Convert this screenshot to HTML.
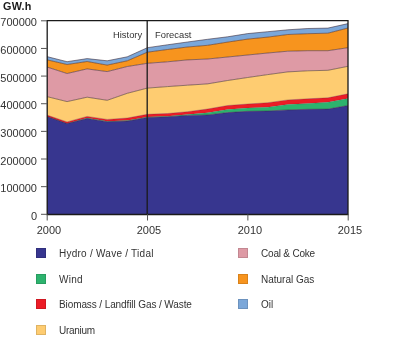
<!DOCTYPE html>
<html><head><meta charset="utf-8"><style>
html,body{margin:0;padding:0;background:#fff;width:400px;height:342px;overflow:hidden}
body{position:relative;font-family:"Liberation Sans",sans-serif;color:#333}
.t{position:absolute;white-space:nowrap;line-height:1;will-change:transform}
.yl{font-size:11px;text-align:right;width:40px;left:-2.6px}
.xl{font-size:11px}
.lg{font-size:10px}
.sw{position:absolute;width:10px;height:10px;box-shadow:inset 0 0 0 1px rgba(0,0,0,.12)}
</style></head><body>
<svg width="400" height="342" viewBox="0 0 400 342" style="position:absolute;left:0;top:0">
<path d="M47,56.6 L67.07,61.7 L87.13,58.6 L107.2,60.8 L127.27,56.8 L147.33,47.7 L167.4,44.8 L187.47,42 L207.53,39.3 L227.6,36.8 L247.67,33.6 L267.73,31.7 L287.8,29.8 L307.87,28.5 L327.93,28.1 L348,23.6 L348,28 L327.93,33.2 L307.87,33.7 L287.8,34.5 L267.73,37.1 L247.67,39.1 L227.6,42.1 L207.53,45.3 L187.47,47 L167.4,49.5 L147.33,52.2 L127.27,60.8 L107.2,65.1 L87.13,61.5 L67.07,64.5 L47,59.8Z" fill="#7ba7d9"/>
<path d="M47,59.8 L67.07,64.5 L87.13,61.5 L107.2,65.1 L127.27,60.8 L147.33,52.2 L167.4,49.5 L187.47,47 L207.53,45.3 L227.6,42.1 L247.67,39.1 L267.73,37.1 L287.8,34.5 L307.87,33.7 L327.93,33.2 L348,28 L348,47.7 L327.93,50.7 L307.87,50.7 L287.8,51.2 L267.73,53 L247.67,55 L227.6,57 L207.53,59 L187.47,59.9 L167.4,61.8 L147.33,63.3 L127.27,66.5 L107.2,71.6 L87.13,68.9 L67.07,73.5 L47,67Z" fill="#f7941e"/>
<path d="M47,67 L67.07,73.5 L87.13,68.9 L107.2,71.6 L127.27,66.5 L147.33,63.3 L167.4,61.8 L187.47,59.9 L207.53,59 L227.6,57 L247.67,55 L267.73,53 L287.8,51.2 L307.87,50.7 L327.93,50.7 L348,47.7 L348,66.3 L327.93,70.3 L307.87,70.8 L287.8,71.9 L267.73,74.6 L247.67,77.5 L227.6,80.5 L207.53,83.9 L187.47,85.2 L167.4,86.6 L147.33,88.1 L127.27,93.3 L107.2,100.3 L87.13,97.2 L67.07,101.6 L47,96.6Z" fill="#de9aa5"/>
<path d="M47,96.6 L67.07,101.6 L87.13,97.2 L107.2,100.3 L127.27,93.3 L147.33,88.1 L167.4,86.6 L187.47,85.2 L207.53,83.9 L227.6,80.5 L247.67,77.5 L267.73,74.6 L287.8,71.9 L307.87,70.8 L327.93,70.3 L348,66.3 L348,93.8 L327.93,97.8 L307.87,98.8 L287.8,99.9 L267.73,102.7 L247.67,104 L227.6,105.5 L207.53,109 L187.47,111.7 L167.4,113.5 L147.33,114.3 L127.27,118 L107.2,119.4 L87.13,116.4 L67.07,121.9 L47,115.1Z" fill="#fecc71"/>
<path d="M47,115.1 L67.07,121.9 L87.13,116.4 L107.2,119.4 L127.27,118 L147.33,114.3 L167.4,113.5 L187.47,111.7 L207.53,109 L227.6,105.5 L247.67,104 L267.73,102.7 L287.8,99.9 L307.87,98.8 L327.93,97.8 L348,93.8 L348,98.4 L327.93,102.2 L307.87,103.6 L287.8,104.4 L267.73,107.2 L247.67,107.9 L227.6,109.6 L207.53,112.8 L187.47,114.6 L167.4,116.2 L147.33,116.9 L127.27,120.5 L107.2,121.2 L87.13,118 L67.07,123.5 L47,116.4Z" fill="#ec1c26"/>
<path d="M47,116.4 L67.07,123.5 L87.13,118 L107.2,121.2 L127.27,120.5 L147.33,116.9 L167.4,116.2 L187.47,114.6 L207.53,112.8 L227.6,109.6 L247.67,107.9 L267.73,107.2 L287.8,104.4 L307.87,103.6 L327.93,102.2 L348,98.4 L348,105.5 L327.93,109.1 L307.87,109.3 L287.8,109.9 L267.73,111 L247.67,111.3 L227.6,112.6 L207.53,114.9 L187.47,115.4 L167.4,116.8 L147.33,117.5 L127.27,121.1 L107.2,121.7 L87.13,118.5 L67.07,123.6 L47,116.5Z" fill="#2db36e"/>
<path d="M47,116.5 L67.07,123.6 L87.13,118.5 L107.2,121.7 L127.27,121.1 L147.33,117.5 L167.4,116.8 L187.47,115.4 L207.53,114.9 L227.6,112.6 L247.67,111.3 L267.73,111 L287.8,109.9 L307.87,109.3 L327.93,109.1 L348,105.5 L348,214.3 L327.93,214.3 L307.87,214.3 L287.8,214.3 L267.73,214.3 L247.67,214.3 L227.6,214.3 L207.53,214.3 L187.47,214.3 L167.4,214.3 L147.33,214.3 L127.27,214.3 L107.2,214.3 L87.13,214.3 L67.07,214.3 L47,214.3Z" fill="#37368f"/>
<path d="M47,56.6 L67.07,61.7 L87.13,58.6 L107.2,60.8 L127.27,56.8 L147.33,47.7 L167.4,44.8 L187.47,42 L207.53,39.3 L227.6,36.8 L247.67,33.6 L267.73,31.7 L287.8,29.8 L307.87,28.5 L327.93,28.1 L348,23.6" fill="none" stroke="#3a2430" stroke-width="0.65" stroke-opacity="0.85"/>
<path d="M47,59.8 L67.07,64.5 L87.13,61.5 L107.2,65.1 L127.27,60.8 L147.33,52.2 L167.4,49.5 L187.47,47 L207.53,45.3 L227.6,42.1 L247.67,39.1 L267.73,37.1 L287.8,34.5 L307.87,33.7 L327.93,33.2 L348,28" fill="none" stroke="#3a2430" stroke-width="0.65" stroke-opacity="0.85"/>
<path d="M47,67 L67.07,73.5 L87.13,68.9 L107.2,71.6 L127.27,66.5 L147.33,63.3 L167.4,61.8 L187.47,59.9 L207.53,59 L227.6,57 L247.67,55 L267.73,53 L287.8,51.2 L307.87,50.7 L327.93,50.7 L348,47.7" fill="none" stroke="#3a2430" stroke-width="0.65" stroke-opacity="0.85"/>
<path d="M47,96.6 L67.07,101.6 L87.13,97.2 L107.2,100.3 L127.27,93.3 L147.33,88.1 L167.4,86.6 L187.47,85.2 L207.53,83.9 L227.6,80.5 L247.67,77.5 L267.73,74.6 L287.8,71.9 L307.87,70.8 L327.93,70.3 L348,66.3" fill="none" stroke="#3a2430" stroke-width="0.65" stroke-opacity="0.85"/>
<path d="M47,115.1 L67.07,121.9 L87.13,116.4 L107.2,119.4 L127.27,118 L147.33,114.3 L167.4,113.5 L187.47,111.7 L207.53,109 L227.6,105.5 L247.67,104 L267.73,102.7 L287.8,99.9 L307.87,98.8 L327.93,97.8 L348,93.8" fill="none" stroke="#3a2430" stroke-width="0.65" stroke-opacity="0.4"/>
<path d="M47,116.4 L67.07,123.5 L87.13,118 L107.2,121.2 L127.27,120.5 L147.33,116.9 L167.4,116.2 L187.47,114.6 L207.53,112.8 L227.6,109.6 L247.67,107.9 L267.73,107.2 L287.8,104.4 L307.87,103.6 L327.93,102.2 L348,98.4" fill="none" stroke="#3a2430" stroke-width="0.65" stroke-opacity="0.3"/>
<path d="M47,116.5 L67.07,123.6 L87.13,118.5 L107.2,121.7 L127.27,121.1 L147.33,117.5 L167.4,116.8 L187.47,115.4 L207.53,114.9 L227.6,112.6 L247.67,111.3 L267.73,111 L287.8,109.9 L307.87,109.3 L327.93,109.1 L348,105.5" fill="none" stroke="#3a2430" stroke-width="0.65" stroke-opacity="0.7"/>
<path d="M47.2,20.7 H348.0 V214.5 H47.2 Z" fill="none" stroke="#1a1a1a" stroke-width="1.3"/>
<line x1="147.2" y1="20.7" x2="147.2" y2="214.5" stroke="#1a1a1a" stroke-width="1.3"/>
<line x1="41" y1="214.3" x2="47" y2="214.3" stroke="#555" stroke-width="1"/>
<line x1="41" y1="186.66" x2="47" y2="186.66" stroke="#555" stroke-width="1"/>
<line x1="41" y1="159.01" x2="47" y2="159.01" stroke="#555" stroke-width="1"/>
<line x1="41" y1="131.37" x2="47" y2="131.37" stroke="#555" stroke-width="1"/>
<line x1="41" y1="103.73" x2="47" y2="103.73" stroke="#555" stroke-width="1"/>
<line x1="41" y1="76.09" x2="47" y2="76.09" stroke="#555" stroke-width="1"/>
<line x1="41" y1="48.44" x2="47" y2="48.44" stroke="#555" stroke-width="1"/>
<line x1="41" y1="20.8" x2="47" y2="20.8" stroke="#555" stroke-width="1"/>
<line x1="47.2" y1="214.3" x2="47.2" y2="220.5" stroke="#555" stroke-width="1"/>
<line x1="147.53" y1="214.3" x2="147.53" y2="220.5" stroke="#555" stroke-width="1"/>
<line x1="247.87" y1="214.3" x2="247.87" y2="220.5" stroke="#555" stroke-width="1"/>
<line x1="348.2" y1="214.3" x2="348.2" y2="220.5" stroke="#555" stroke-width="1"/>
</svg>
<div class="t" style="left:2.5px;top:1.2px;font-size:10.8px;font-weight:bold;color:#1a1a1a;letter-spacing:0.25px">GW.h</div>
<div class="t yl" style="top:210.8px">0</div>
<div class="t yl" style="top:183.16px">100000</div>
<div class="t yl" style="top:155.51px">200000</div>
<div class="t yl" style="top:127.87px">300000</div>
<div class="t yl" style="top:100.23px">400000</div>
<div class="t yl" style="top:72.59px">500000</div>
<div class="t yl" style="top:44.94px">600000</div>
<div class="t yl" style="top:17.3px">700000</div>
<div class="t xl" style="left:28.9px;top:225px;width:40px;text-align:center">2000</div>
<div class="t xl" style="left:129.23px;top:225px;width:40px;text-align:center">2005</div>
<div class="t xl" style="left:229.57px;top:225px;width:40px;text-align:center">2010</div>
<div class="t xl" style="left:329.9px;top:225px;width:40px;text-align:center">2015</div>
<div class="t lg" style="left:113px;top:30.3px;font-size:9.4px">History</div>
<div class="t lg" style="left:155px;top:30.3px;font-size:9.4px">Forecast</div>
<div class="sw" style="left:36px;top:248px;background:#37368f"></div>
<div class="t lg" style="left:59px;top:249px;letter-spacing:0.25px">Hydro / Wave / Tidal</div>
<div class="sw" style="left:36px;top:274px;background:#2db36e"></div>
<div class="t lg" style="left:59px;top:275px;letter-spacing:0.27px">Wind</div>
<div class="sw" style="left:36px;top:299px;background:#ec1c26"></div>
<div class="t lg" style="left:59px;top:300px;letter-spacing:-0.1px">Biomass / Landfill Gas / Waste</div>
<div class="sw" style="left:36px;top:325px;background:#fecc71"></div>
<div class="t lg" style="left:59px;top:326px;letter-spacing:-0.3px">Uranium</div>
<div class="sw" style="left:238px;top:248px;background:#de9aa5"></div>
<div class="t lg" style="left:261px;top:249px;letter-spacing:-0.2px">Coal &amp; Coke</div>
<div class="sw" style="left:238px;top:274px;background:#f7941e"></div>
<div class="t lg" style="left:261px;top:275px;letter-spacing:0px">Natural Gas</div>
<div class="sw" style="left:238px;top:299px;background:#7ba7d9"></div>
<div class="t lg" style="left:261px;top:300px;letter-spacing:0.05px">Oil</div>
</body></html>
